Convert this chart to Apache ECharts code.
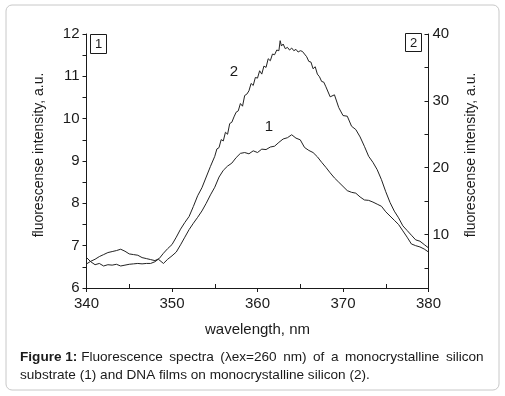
<!DOCTYPE html>
<html>
<head>
<meta charset="utf-8">
<script src="https://cdn.jsdelivr.net/npm/echarts@6/dist/echarts.min.js"></script>
<style>
  html, body { margin: 0; padding: 0; background: #fff; }
  #chart { width: 505px; height: 396px; }
</style>
</head>
<body>
<div id="chart"></div>
<script>
// curve 1: monocrystalline silicon substrate (left axis)
const wl1 = [340, 340.5, 341, 341.5, 342, 342.5, 343, 343.5, 344, 344.5, 345, 345.5, 346, 346.5, 347, 347.5,
  348, 348.4, 349, 349.5, 350, 350.5, 351, 351.5, 352, 352.5, 353, 353.5, 354, 354.5, 355, 355.5,
  356, 356.5, 357, 357.5, 358, 358.5, 359, 359.5, 360, 360.5, 361, 361.5, 362, 362.5, 363, 363.5,
  364, 364.5, 365, 365.5, 366, 366.5, 367, 367.5, 368, 368.5, 369, 369.5, 370, 370.5, 371, 371.5,
  372, 372.5, 373, 373.5, 374, 374.5, 375, 375.5, 376, 376.5, 377, 377.5, 378, 378.5, 379, 379.5, 380];
const int1 = [6.72, 6.62, 6.55, 6.58, 6.52, 6.55, 6.54, 6.56, 6.52, 6.54, 6.56, 6.57, 6.58, 6.57, 6.58, 6.58,
  6.62, 6.68, 6.58, 6.68, 6.76, 6.85, 7.02, 7.2, 7.38, 7.53, 7.67, 7.82, 8.0, 8.2, 8.38, 8.62,
  8.78, 8.88, 8.95, 9.08, 9.18, 9.2, 9.17, 9.24, 9.2, 9.28, 9.27, 9.33, 9.35, 9.44, 9.52, 9.55,
  9.62, 9.54, 9.5, 9.32, 9.25, 9.2, 9.1, 8.97, 8.85, 8.72, 8.6, 8.5, 8.4, 8.3, 8.26, 8.24,
  8.15, 8.08, 8.07, 8.03, 7.98, 7.93, 7.8, 7.7, 7.6, 7.5, 7.35, 7.2, 7.04, 7.0, 6.97, 6.92, 6.85];

// curve 2: DNA films on monocrystalline silicon (right axis)
const wl2 = [340, 340.5, 341, 341.5, 342, 342.5, 343, 343.5, 344, 344.5, 345, 345.5, 346, 346.5, 347, 347.5,
  348, 348.5, 349, 349.5, 350, 350.5, 351, 351.5, 352, 352.5, 353, 353.5, 354, 354.5,
  355, 355.25, 355.5, 355.75, 356, 356.25, 356.5, 356.75, 357, 357.25, 357.5, 357.75,
  358, 358.25, 358.5, 358.75, 359, 359.25, 359.5, 359.75, 360, 360.25, 360.5, 360.75,
  361, 361.25, 361.5, 361.75, 362, 362.25, 362.5, 362.65, 362.8, 363, 363.25, 363.5, 363.75,
  364, 364.25, 364.5, 364.75, 365, 365.25, 365.5, 365.75, 366, 366.25, 366.5, 366.75,
  367, 367.25, 367.5, 367.75, 368, 368.5, 369, 369.5, 370, 370.5, 371, 371.5, 372, 372.5,
  373, 373.5, 374, 374.5, 375, 375.5, 376, 376.5, 377, 377.5, 378, 378.5, 379, 379.5, 380];
const int2 = [5.6, 6.0, 6.3, 6.7, 7.0, 7.3, 7.45, 7.6, 7.8, 7.5, 7.1, 7.0, 6.9, 6.55, 6.4, 6.25,
  6.1, 6.4, 7.2, 7.9, 8.5, 9.6, 10.8, 11.8, 12.7, 14.2, 15.8, 17.0, 18.6, 20.2,
  21.7, 22.8, 23.0, 24.2, 24.0, 25.3, 25.0, 26.6, 26.8, 27.6, 28.3, 28.5,
  29.6, 29.2, 30.8, 31.0, 31.5, 32.6, 32.3, 33.5, 33.4, 34.5, 34.0, 35.2,
  35.0, 36.3, 36.0, 37.0, 36.9, 37.6, 37.5, 39.0, 38.2, 38.5, 37.8, 38.0, 37.6,
  37.9, 37.5, 37.7, 37.3, 37.5, 37.4, 37.0, 36.6, 35.9, 35.8, 34.8, 35.1,
  34.0, 33.6, 32.9, 32.8, 32.1, 30.6, 30.9, 29.0, 27.8, 27.7, 26.2, 25.7, 24.6, 23.2,
  21.7, 20.8, 19.7, 18.2, 16.4, 14.8, 13.5, 12.5, 11.3, 10.6, 9.9, 9.2, 9.0, 8.5, 8.0];

const xMinorTicks = [345, 355, 365, 375];
const rightLabels = [10, 20, 30, 40];
const rightTicks = [5, 10, 15, 20, 25, 30, 35, 40];

const font = 'Liberation Sans, Arial, sans-serif';
const ink = '#1a1a1a';
const gap = '\u2009'; // extra thin space to spread the first caption line

const chart = echarts.init(document.getElementById('chart'), null, { renderer: 'canvas' });

const option = {
  animation: false,
  backgroundColor: '#fff',
  textStyle: { fontFamily: font, color: ink },
  grid: { left: 86.5, right: 76.5, top: 34, bottom: 108 },
  xAxis: [{
    type: 'value', min: 340, max: 380, interval: 10,
    name: 'wavelength, nm', nameLocation: 'middle', nameGap: 34,
    nameTextStyle: { fontSize: 15, color: ink, fontFamily: font },
    axisLine: { lineStyle: { color: ink, width: 1 } },
    axisTick: { length: 4, lineStyle: { color: ink } },
    axisLabel: { fontSize: 15, color: ink, margin: 8, fontFamily: font },
    splitLine: { show: false }
  }, {
    type: 'value', min: 340, max: 380, position: 'bottom',
    axisLine: { show: false },
    axisTick: { inside: true, length: 4, customValues: xMinorTicks, lineStyle: { color: ink } },
    axisLabel: { show: false },
    splitLine: { show: false }
  }],
  yAxis: [{
    type: 'value', min: 6, max: 12, interval: 1, position: 'left',
    name: 'fluorescense intensity, a.u.', nameLocation: 'middle', nameGap: 40,
    nameTextStyle: { fontSize: 14, color: ink, fontFamily: font, padding: [0, 0, 0, 12] },
    axisLine: { show: true, lineStyle: { color: ink, width: 1 } },
    axisTick: { length: 4, lineStyle: { color: ink } },
    minorTick: { show: true, splitNumber: 2, length: 4, lineStyle: { color: ink } },
    axisLabel: { fontSize: 15, color: ink, margin: 7, fontFamily: font },
    splitLine: { show: false }
  }, {
    type: 'value', min: 2, max: 40, position: 'right',
    name: 'fluorescense intensity, a.u.', nameLocation: 'middle', nameGap: 36,
    nameTextStyle: { fontSize: 14, color: ink, fontFamily: font, padding: [0, 0, 0, 12] },
    axisLine: { show: true, lineStyle: { color: ink, width: 1 } },
    axisTick: { inside: true, length: 4, customValues: rightTicks, lineStyle: { color: ink } },
    axisLabel: { fontSize: 15, color: ink, margin: 4, customValues: rightLabels, fontFamily: font },
    splitLine: { show: false }
  }],
  series: [{
    name: '1', type: 'line', xAxisIndex: 0, yAxisIndex: 0,
    data: wl1.map((w, i) => [w, int1[i]]),
    showSymbol: false, lineStyle: { color: '#222', width: 1 }
  }, {
    name: '2', type: 'line', xAxisIndex: 0, yAxisIndex: 1,
    data: wl2.map((w, i) => [w, int2[i]]),
    showSymbol: false, lineStyle: { color: '#222', width: 1 }
  }],
  graphic: [
    // outer frame
    { type: 'rect', shape: { x: 6, y: 5, width: 493, height: 385, r: 6 },
      style: { fill: null, stroke: '#c8c8c8', lineWidth: 1 }, silent: true },
    // panel markers
    { type: 'rect', shape: { x: 90.5, y: 34.5, width: 16, height: 19 },
      style: { fill: '#fff', stroke: ink, lineWidth: 1 } },
    { type: 'text', x: 98.5, y: 44, style: { text: '1', font: '13px ' + font, fill: ink, align: 'center', verticalAlign: 'middle' } },
    { type: 'rect', shape: { x: 405.5, y: 33.5, width: 16, height: 18 },
      style: { fill: '#fff', stroke: ink, lineWidth: 1 } },
    { type: 'text', x: 413.5, y: 43, style: { text: '2', font: '13px ' + font, fill: ink, align: 'center', verticalAlign: 'middle' } },
    // curve labels
    { type: 'text', x: 234, y: 72, style: { text: '2', font: '15px ' + font, fill: ink, align: 'center', verticalAlign: 'middle' } },
    { type: 'text', x: 269, y: 127, style: { text: '1', font: '15px ' + font, fill: ink, align: 'center', verticalAlign: 'middle' } },
    // caption
    { type: 'text', x: 20, y: 357, style: {
        text: '{b|Figure 1:} Fluorescence' + gap + ' spectra' + gap + ' (λex=260' + gap + ' nm)' + gap + ' of' + gap +
          ' a' + gap + ' monocrystalline' + gap + ' silicon',
        font: '13.6px ' + font, fill: ink, verticalAlign: 'middle',
        rich: { b: { fontWeight: 'bold', fontSize: 13.6, fontFamily: font, fill: ink } } } },
    { type: 'text', x: 20, y: 375, style: {
        text: 'substrate (1) and DNA films on monocrystalline silicon (2).',
        font: '13.6px ' + font, fill: ink, verticalAlign: 'middle' } }
  ]
};

chart.setOption(option);
</script>
</body>
</html>
